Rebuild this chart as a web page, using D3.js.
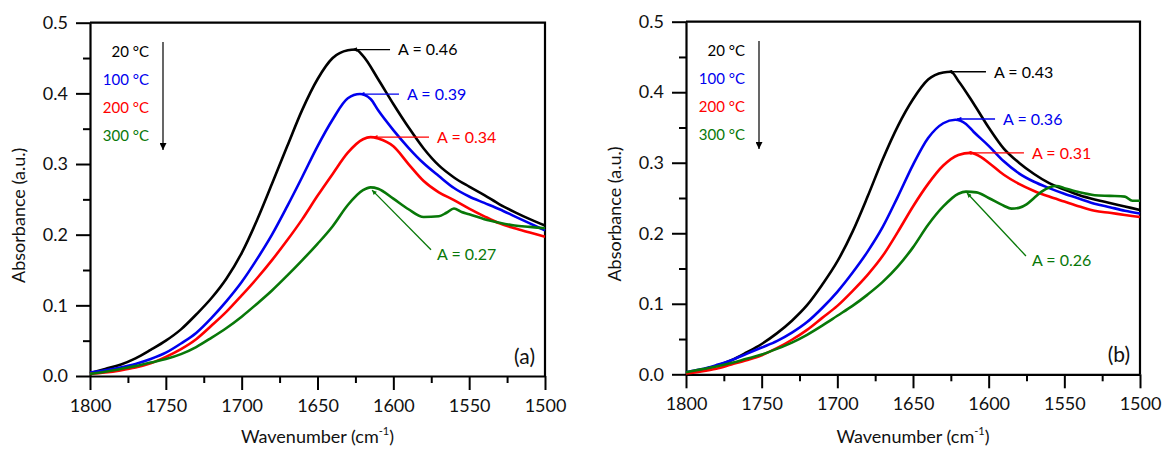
<!DOCTYPE html>
<html><head><meta charset="utf-8">
<script src="https://cdn.jsdelivr.net/npm/d3@7/dist/d3.min.js"></script>
<style>
body{margin:0;background:#fff}
svg{display:block}
text{font-family:Lato,"Open Sans",sans-serif}
</style>
</head><body>
<svg id="c" width="1163" height="450"></svg>
<script>
// ---------- data ----------
const temperatures = ["20 °C", "100 °C", "200 °C", "300 °C"];
const seriesColors = ["#000000", "#0000ee", "#ff0000", "#087808"];
const xTickValues = [1800, 1750, 1700, 1650, 1600, 1550, 1500];
const yTickValues = [0.0, 0.1, 0.2, 0.3, 0.4, 0.5];
const panelLabels = ["(a)", "(b)"];

// panel (a): [wavenumber, absorbance]
const a20 = [[1800,0.004],[1790,0.010],[1780,0.016],[1770,0.025],[1760,0.037],[1750,0.050],[1740,0.066],[1730,0.087],[1720,0.110],[1710,0.138],[1700,0.174],[1690,0.220],[1680,0.272],[1670,0.325],[1660,0.377],[1650,0.420],[1640,0.450],[1630,0.461],[1625,0.462],[1620,0.453],[1610,0.420],[1600,0.385],[1590,0.352],[1580,0.322],[1570,0.298],[1560,0.281],[1550,0.268],[1540,0.256],[1530,0.243],[1520,0.232],[1510,0.222],[1500,0.213]];
const a100 = [[1800,0.005],[1790,0.008],[1780,0.012],[1770,0.017],[1760,0.024],[1750,0.033],[1740,0.046],[1730,0.061],[1720,0.082],[1710,0.106],[1700,0.133],[1690,0.165],[1680,0.200],[1670,0.240],[1660,0.282],[1650,0.325],[1640,0.363],[1630,0.393],[1622,0.399],[1615,0.392],[1610,0.376],[1600,0.348],[1590,0.323],[1580,0.301],[1570,0.283],[1560,0.266],[1550,0.254],[1540,0.245],[1530,0.236],[1520,0.226],[1510,0.216],[1500,0.206]];
const a200 = [[1800,0.003],[1790,0.005],[1780,0.008],[1770,0.012],[1760,0.018],[1750,0.027],[1740,0.038],[1730,0.052],[1720,0.071],[1710,0.091],[1700,0.114],[1690,0.138],[1680,0.164],[1670,0.192],[1660,0.222],[1650,0.255],[1640,0.286],[1630,0.316],[1620,0.335],[1615,0.338],[1610,0.336],[1600,0.325],[1590,0.300],[1580,0.276],[1570,0.260],[1560,0.249],[1550,0.237],[1540,0.226],[1530,0.216],[1520,0.209],[1510,0.203],[1500,0.197]];
const a300 = [[1800,0.003],[1790,0.006],[1780,0.010],[1770,0.014],[1760,0.019],[1750,0.024],[1740,0.031],[1730,0.041],[1720,0.054],[1710,0.068],[1700,0.084],[1690,0.102],[1680,0.121],[1670,0.142],[1660,0.164],[1650,0.187],[1640,0.212],[1630,0.242],[1620,0.263],[1615,0.267],[1610,0.265],[1600,0.251],[1590,0.236],[1580,0.225],[1570,0.226],[1565,0.231],[1560,0.237],[1555,0.232],[1550,0.229],[1540,0.222],[1530,0.217],[1520,0.213],[1510,0.211],[1500,0.209]];

// panel (b)
const b20 = [[1800,0.001],[1790,0.006],[1780,0.012],[1770,0.020],[1760,0.031],[1750,0.043],[1740,0.058],[1730,0.076],[1720,0.098],[1710,0.127],[1700,0.160],[1690,0.202],[1680,0.252],[1670,0.305],[1660,0.352],[1650,0.390],[1640,0.418],[1630,0.428],[1625,0.429],[1620,0.416],[1610,0.384],[1600,0.350],[1590,0.320],[1580,0.300],[1570,0.284],[1560,0.271],[1550,0.262],[1540,0.254],[1530,0.248],[1520,0.243],[1510,0.238],[1500,0.233]];
const b100 = [[1800,0.003],[1790,0.007],[1780,0.013],[1770,0.020],[1760,0.029],[1750,0.038],[1740,0.047],[1730,0.059],[1720,0.074],[1710,0.094],[1700,0.117],[1690,0.144],[1680,0.174],[1670,0.209],[1660,0.252],[1650,0.297],[1640,0.335],[1630,0.356],[1622,0.361],[1615,0.355],[1610,0.344],[1600,0.324],[1590,0.302],[1580,0.285],[1570,0.273],[1560,0.264],[1550,0.256],[1540,0.249],[1530,0.242],[1520,0.237],[1510,0.232],[1500,0.228]];
const b200 = [[1800,0.001],[1790,0.004],[1780,0.008],[1770,0.014],[1760,0.020],[1750,0.027],[1740,0.037],[1730,0.049],[1720,0.063],[1710,0.080],[1700,0.097],[1690,0.118],[1680,0.141],[1670,0.168],[1660,0.202],[1650,0.238],[1640,0.270],[1630,0.296],[1620,0.311],[1612,0.314],[1605,0.308],[1600,0.300],[1590,0.283],[1580,0.270],[1570,0.260],[1560,0.252],[1550,0.245],[1540,0.238],[1530,0.232],[1520,0.229],[1510,0.226],[1500,0.223]];
const b300 = [[1800,0.003],[1790,0.007],[1780,0.011],[1770,0.016],[1760,0.022],[1750,0.028],[1740,0.036],[1730,0.045],[1720,0.056],[1710,0.069],[1700,0.083],[1690,0.097],[1680,0.113],[1670,0.131],[1660,0.153],[1650,0.180],[1640,0.212],[1630,0.238],[1620,0.256],[1615,0.259],[1608,0.258],[1600,0.250],[1590,0.239],[1585,0.235],[1580,0.236],[1575,0.241],[1570,0.250],[1565,0.259],[1560,0.265],[1555,0.267],[1550,0.264],[1540,0.258],[1530,0.254],[1520,0.253],[1510,0.252],[1505,0.246],[1500,0.246]];

// peak annotations: label, peak point [w, A], text anchor [w, A]
const peakLabelsA = ["A = 0.46", "A = 0.39", "A = 0.34", "A = 0.27"];
const peakPointsA = [[1627,0.462],[1622,0.399],[1613.4,0.338],[1614,0.263]];
const labelPointsA = [[1596.9,0.462],[1591,0.399],[1571.2,0.338],[1571.2,0.173]];
const peakLabelsB = ["A = 0.43", "A = 0.36", "A = 0.31", "A = 0.26"];
const peakPointsB = [[1627,0.429],[1621,0.362],[1614.3,0.314],[1614.3,0.257]];
const labelPointsB = [[1596.5,0.429],[1590.5,0.362],[1571.4,0.314],[1571.4,0.162]];

// ---------- drawing ----------
const svg = d3.select("#c");
const defs = svg.append("defs");
seriesColors.forEach((c, i) => {
  defs.append("marker").attr("id", "ah" + i)
    .attr("viewBox", "0 0 10 10").attr("refX", 10).attr("refY", 5)
    .attr("markerWidth", 6).attr("markerHeight", 4.5).attr("markerUnits", "userSpaceOnUse")
    .attr("orient", "auto")
    .append("path").attr("d", "M0,0L10,5L0,10z").attr("fill", c);
});
defs.append("marker").attr("id", "legArrow")
  .attr("viewBox", "0 0 10 10").attr("refX", 10).attr("refY", 5)
  .attr("markerWidth", 10).attr("markerHeight", 7).attr("markerUnits", "userSpaceOnUse")
  .attr("orient", "auto")
  .append("path").attr("d", "M0,0L10,5L0,10z").attr("fill", "#000");

function drawPanel(cfg) {
  const x = d3.scaleLinear().domain([1800, 1500]).range([cfg.left, cfg.right]);
  const y = d3.scaleLinear().domain([0, 0.5]).range([cfg.bottom, cfg.top]);
  const g = svg.append("g");

  // minor ticks
  const xMinor = d3.range(1775, 1500, -50);
  const yMinor = [0.05, 0.15, 0.25, 0.35, 0.45];
  g.append("g").attr("transform", `translate(0,${cfg.bottom})`)
    .call(d3.axisBottom(x).tickValues(xMinor).tickSize(7).tickFormat(""))
    .call(s => { s.select(".domain").remove(); s.selectAll("line").attr("stroke-width", 2); });
  g.append("g").attr("transform", `translate(${cfg.left},0)`)
    .call(d3.axisLeft(y).tickValues(yMinor).tickSize(7).tickFormat(""))
    .call(s => { s.select(".domain").remove(); s.selectAll("line").attr("stroke-width", 2); });

  // major axes
  const xa = g.append("g").attr("transform", `translate(0,${cfg.bottom})`)
    .call(d3.axisBottom(x).tickValues(xTickValues).tickSize(14).tickPadding(9).tickSizeOuter(0).tickFormat(d3.format("d")));
  xa.select(".domain").attr("stroke-width", 2.2);
  xa.selectAll("line").attr("stroke-width", 2);
  xa.selectAll("text").attr("font-size", 18).attr("fill", "#111");

  const ya = g.append("g").attr("transform", `translate(${cfg.left},0)`)
    .call(d3.axisLeft(y).tickValues(yTickValues).tickSize(14).tickPadding(8).tickSizeOuter(0).tickFormat(d3.format(".1f")));
  ya.select(".domain").attr("stroke-width", 2.2);
  ya.selectAll("line").attr("stroke-width", 2);
  ya.selectAll("text").attr("font-size", 18).attr("fill", "#111");

  // frame top & right
  g.append("path")
    .attr("d", `M${cfg.left},${cfg.top}H${cfg.right}V${cfg.bottom}`)
    .attr("fill", "none").attr("stroke", "#000").attr("stroke-width", 2.2);

  // lines
  const line = d3.line().x(d => x(d[0])).y(d => y(d[1])).curve(d3.curveMonotoneX);
  cfg.series.forEach((s, i) => {
    g.append("path").datum(s).attr("d", line)
      .attr("fill", "none").attr("stroke", seriesColors[i])
      .attr("stroke-width", 2.6).attr("stroke-linejoin", "round");
  });

  // annotations
  cfg.labels.forEach((lab, i) => {
    const p = cfg.peaks[i], t = cfg.texts[i];
    const tx = x(t[0]), ty = y(t[1]);
    const isLast = i === cfg.labels.length - 1;
    const x1 = isLast ? tx - 6 : tx - 8;
    const y1 = isLast ? ty - 4 : ty;
    g.append("line").attr("x1", x1).attr("y1", y1).attr("x2", x(p[0])).attr("y2", y(p[1]))
      .attr("stroke", seriesColors[i]).attr("stroke-width", 1.3)
      .attr("marker-end", `url(#ah${i})`);
    g.append("text").attr("x", tx).attr("y", ty).attr("dy", "0.36em")
      .attr("font-size", 16).attr("fill", seriesColors[i]).text(lab);
  });

  // legend
  temperatures.forEach((t, i) => {
    g.append("text").attr("x", cfg.legX).attr("y", cfg.legY + i * 28).attr("dy", "0.36em")
      .attr("text-anchor", "end").attr("font-size", 15).attr("fill", seriesColors[i]).text(t);
  });
  g.append("line").attr("x1", cfg.legX + 14).attr("x2", cfg.legX + 14)
    .attr("y1", cfg.legY - 10).attr("y2", cfg.legY + 98)
    .attr("stroke", "#000").attr("stroke-width", 1.2).attr("marker-end", "url(#legArrow)");

  // panel label
  g.append("text").attr("x", cfg.right - 10).attr("y", cfg.bottom - 12)
    .attr("text-anchor", "end").attr("font-size", 21).attr("fill", "#111").text(cfg.panelLabel);

  // axis titles
  const mx = (cfg.left + cfg.right) / 2;
  const xt = g.append("text").attr("x", mx).attr("y", 443).attr("text-anchor", "middle")
    .attr("font-size", 18).attr("fill", "#111");
  xt.append("tspan").text("Wavenumber (cm");
  xt.append("tspan").attr("dy", -8).attr("font-size", 11).text("-1");
  xt.append("tspan").attr("dy", 8).text(")");

  g.append("text").attr("transform", `translate(${cfg.left - 65},${(cfg.top + cfg.bottom) / 2 + 16}) rotate(-90)`)
    .attr("text-anchor", "middle").attr("font-size", 18).attr("fill", "#111").text("Absorbance (a.u.)");
}

drawPanel({left: 90, right: 545, top: 22.7, bottom: 376,
  series: [a20, a100, a200, a300], labels: peakLabelsA, peaks: peakPointsA, texts: labelPointsA,
  legX: 149, legY: 52, panelLabel: panelLabels[0]});
drawPanel({left: 686, right: 1140, top: 21.7, bottom: 374.3,
  series: [b20, b100, b200, b300], labels: peakLabelsB, peaks: peakPointsB, texts: labelPointsB,
  legX: 745, legY: 51, panelLabel: panelLabels[1]});
</script>
</body></html>
